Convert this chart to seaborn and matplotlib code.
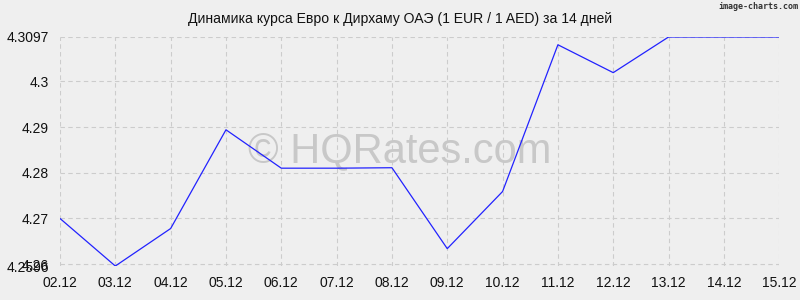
import matplotlib
matplotlib.use("Agg")
import matplotlib.pyplot as plt
import seaborn as sns
import pandas as pd

dates = ["02.12", "03.12", "04.12", "05.12", "06.12", "07.12", "08.12",
         "09.12", "10.12", "11.12", "12.12", "13.12", "14.12", "15.12"]
rates = [4.2700, 4.2596, 4.2678, 4.2894, 4.2810, 4.2810, 4.2811,
         4.2634, 4.2759, 4.3080, 4.3019, 4.3097, 4.3097, 4.3097]
y_ticks = [4.2596, 4.26, 4.27, 4.28, 4.29, 4.3, 4.3097]
y_labels = ["4.2596", "4.26", "4.27", "4.28", "4.29", "4.3", "4.3097"]
title = "Динамика курса Евро к Дирхаму ОАЭ (1 EUR / 1 AED) за 14 дней"

sns.set_theme(style="white")
plt.rcParams['font.family'] = ['Liberation Sans', 'DejaVu Sans']

df = pd.DataFrame({"idx": range(len(dates)), "rate": rates})

fig = plt.figure(figsize=(8, 3), dpi=100, facecolor="#efefef")
ax = fig.add_axes([0.075, 0.1133, 0.899, 0.7634])
ax.set_facecolor("#efefef")

sns.lineplot(data=df, x="idx", y="rate", ax=ax, color="#2222ff", linewidth=0.9, zorder=3)

ax.set_xlim(0, len(dates) - 1)
ax.set_ylim(min(rates), max(rates))
ax.set_xticks(range(len(dates)))
ax.set_xticklabels(dates, fontsize=10, color="#111111")
ax.set_yticks(y_ticks)
ax.set_yticklabels(y_labels, fontsize=10, color="#111111")
ax.tick_params(axis="y", length=0, pad=8)
ax.tick_params(axis="x", length=0, pad=7)
ax.set_xlabel("")
ax.set_ylabel("")
ax.grid(True, color="#cccccc", linestyle=(0, (4, 3)), linewidth=0.8)
for s in ax.spines.values():
    s.set_visible(False)
ax.set_axisbelow(True)

ax.text(0.5, 0.46, "© HQRates.com", transform=fig.transFigure, ha="center", va="baseline",
        fontsize=30, color="#c8c8c8", zorder=2)

fig.text(0.5, 0.937, title, ha="center", va="center", fontsize=10.1, color="#111111")
fig.text(0.998, 0.992, "image-charts.com", ha="right", va="top", fontsize=6,
         fontweight="bold", color="#333333", family=["DejaVu Sans Mono", "DejaVu Sans"])

fig.savefig("out.png", dpi=100, facecolor=fig.get_facecolor())
